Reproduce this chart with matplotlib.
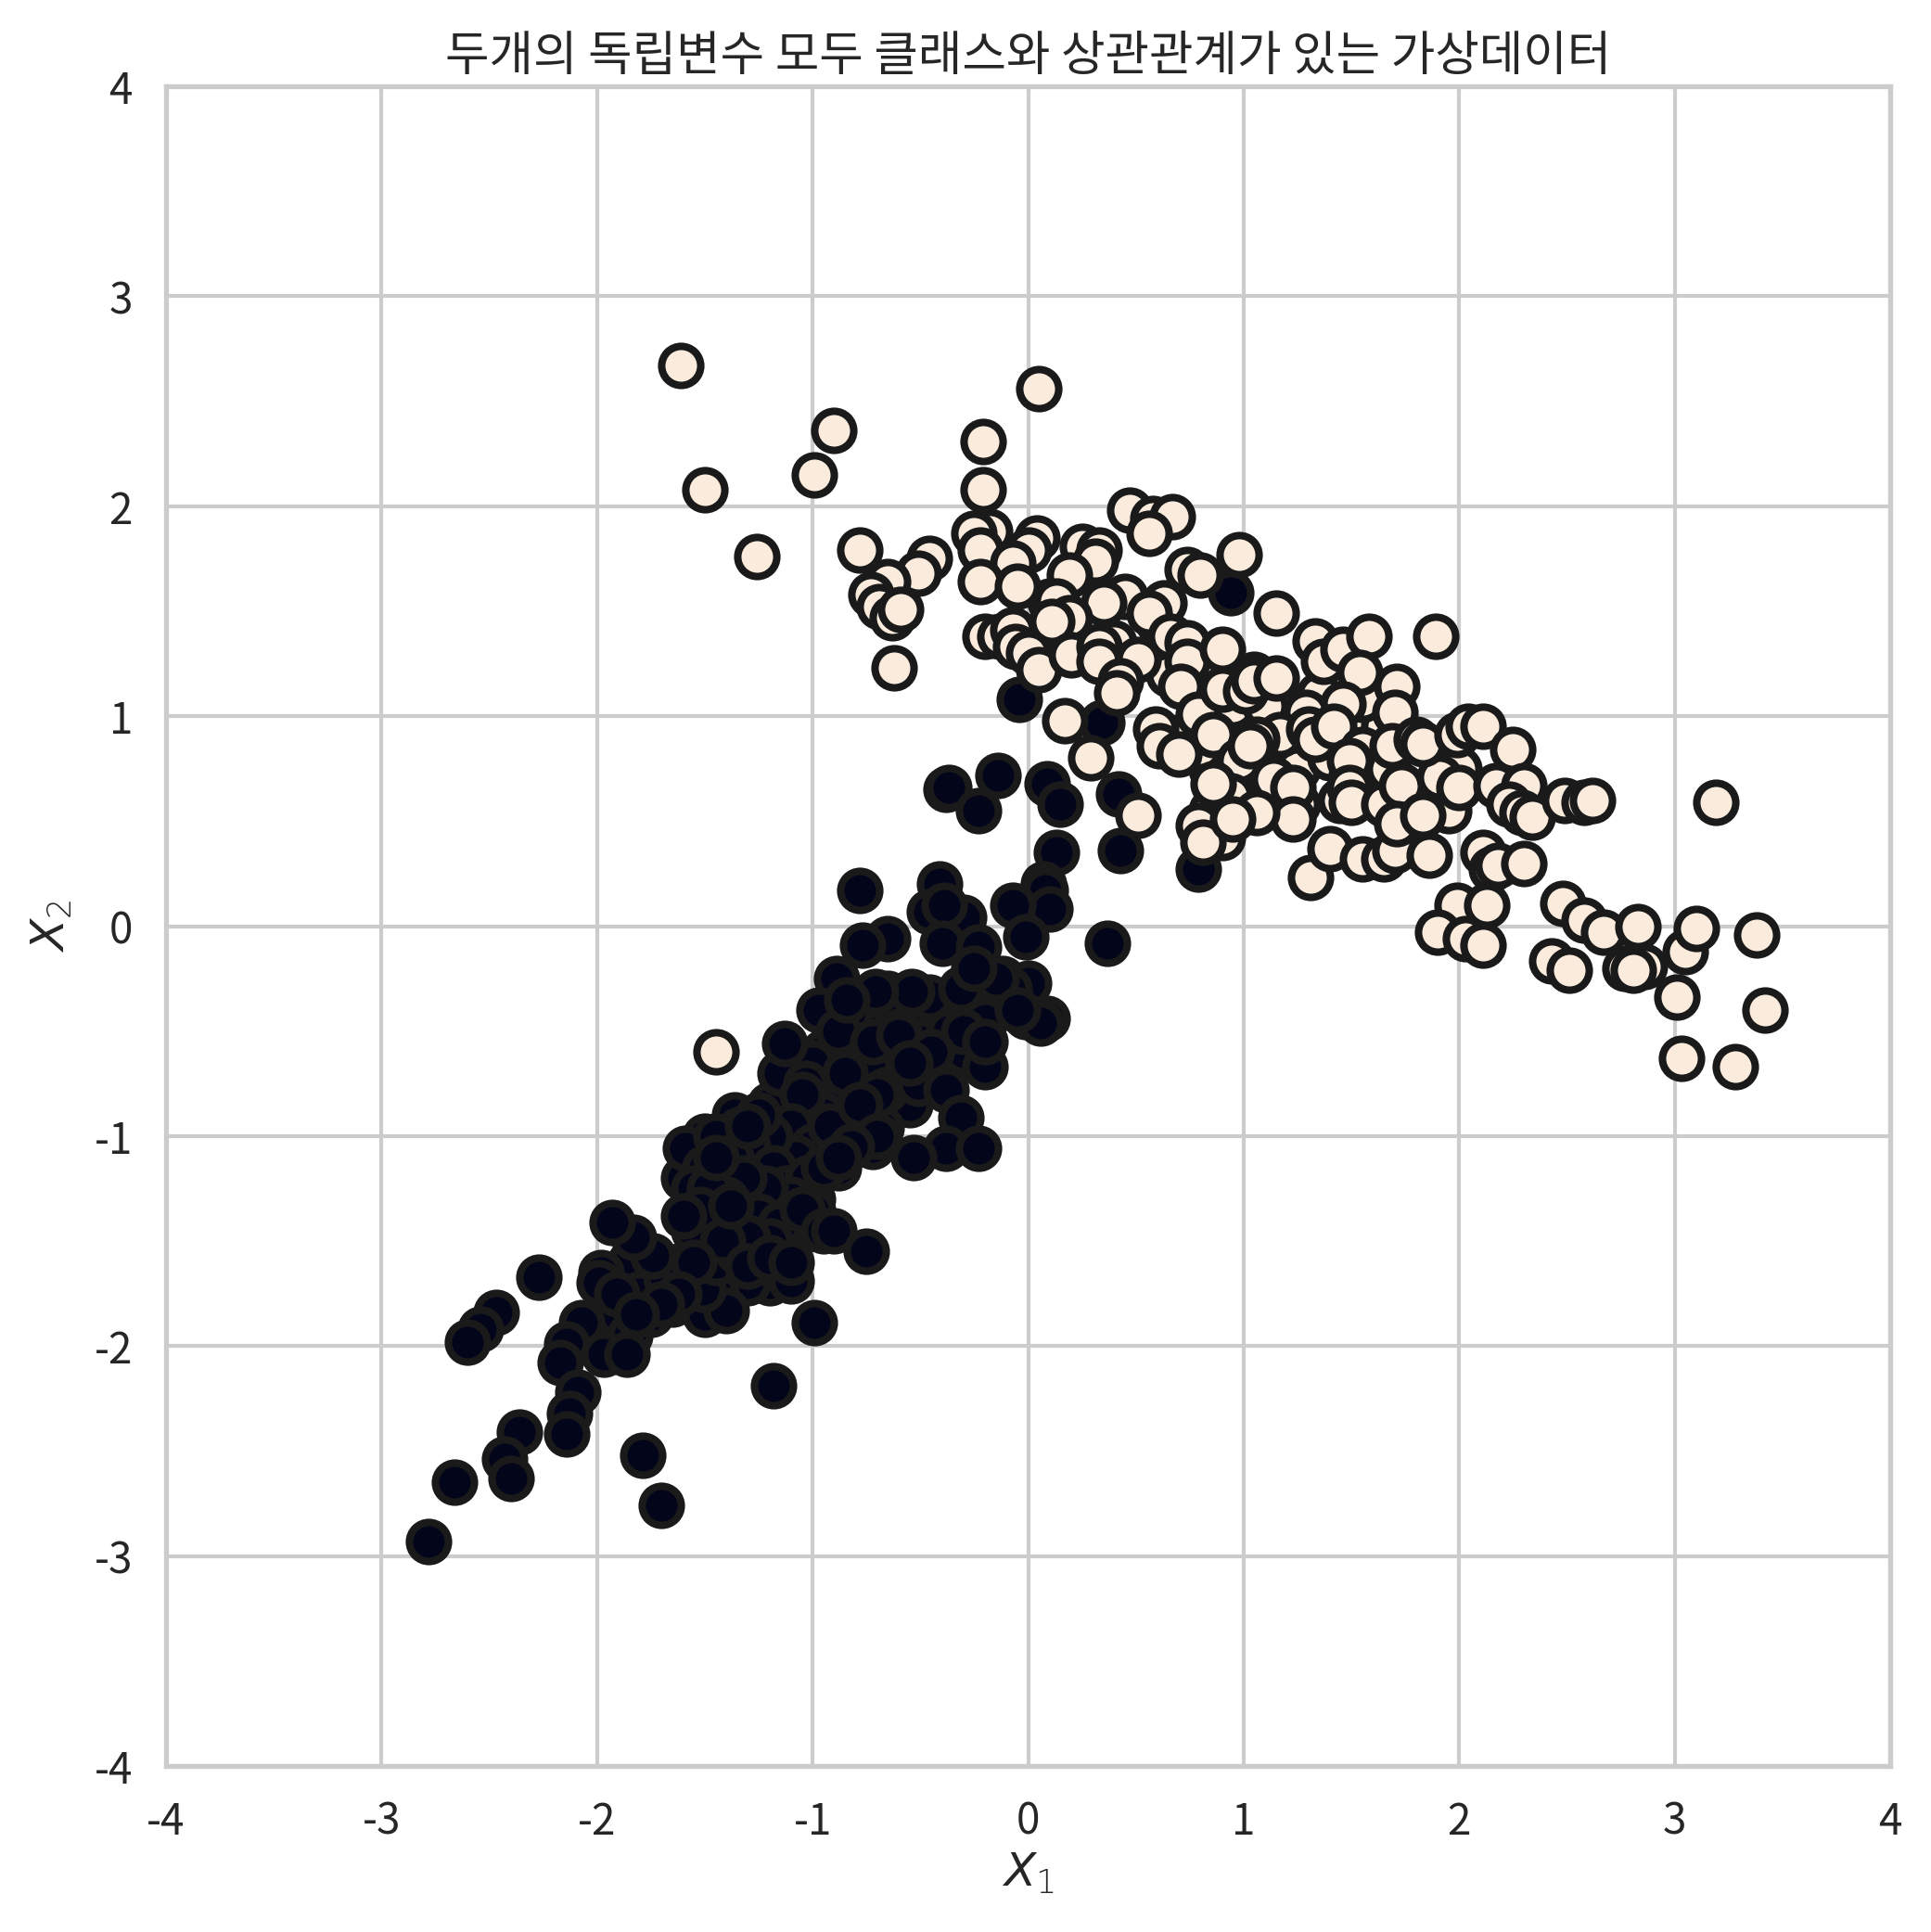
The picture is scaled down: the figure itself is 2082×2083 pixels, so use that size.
#!/usr/bin/python3

import matplotlib
matplotlib.use('Agg')
from matplotlib import pyplot as plt

# class 0 (dark)
x0 = [-0.75, -0.65, -0.55, -0.45, -0.35, -0.25, -0.15, -0.12, -0.20, -0.30, -0.45, -0.50, -0.65, -0.75,
      -0.85, -0.95, -0.65, -0.55, -0.75, -0.90, -0.80, -0.72, -1.00, -1.05, -1.10, -1.20, -1.30, -1.15,
      -1.00, -1.05, -1.15, -1.25, -1.35, -1.45, -1.55, -1.20, -1.30, -1.45, -1.55, -1.62, -1.85, -1.80,
      -1.90, -1.85, -1.65, -1.50, -1.35, -1.50, -1.40, -1.60, -1.55, -1.05, -1.00, -0.88,
      -0.38, -0.37, -0.14, -0.23, 0.09, 0.15, 0.42, 0.43, 0.13, 0.79, 0.34, -0.04, 0.94, 0.37,
      0.07, 0.08, 0.10, -0.07, -0.01, -0.78, -0.41, -0.46, -0.30, -0.39, -0.40, -0.65, -0.77,
      -0.23, -0.89, 0.0, -0.09, 0.09, -0.01, 0.06, -0.97, -0.83, -1.13, -0.60, -0.46, -0.54,
      -0.71, -0.31, -0.37, -0.30, -0.20, -0.74, -0.66, -0.51, -0.38, -0.31, -0.38, -0.23, -0.53,
      -0.68, -0.90, -1.03, -1.36, -1.59, -1.34, -0.88, -0.84, -0.72, -0.60, -0.20, -0.15, -0.05,
      -0.25, -0.45, -0.55, -0.70, -0.85, -0.95, -1.05, -1.10, -1.00, -0.92, -0.78, -0.70, -0.82,
      -1.08, -1.20, -1.25, -1.30, -1.45, -1.50, -1.55, -1.42, -1.38, -1.28, -1.18, -1.12, -1.02,
      -0.95, -0.88, -1.00, -1.10, -1.22, -1.32, -1.40, -1.48, -1.52, -1.35, -1.25, -1.15, -1.05,
      -0.95, -0.90, -0.75, -1.10, -0.99, -1.18, -1.60, -1.40, -1.51, -1.68, -1.74, -1.83, -1.93,
      -1.98, -1.99, -2.27, -2.47, -2.54, -2.60, -2.07, -2.14, -1.97, -1.86, -2.17, -1.75, -1.91,
      -2.09, -2.13, -2.14, -2.36, -2.43, -2.40, -2.66, -2.78, -1.79, -1.70, -1.45, -1.35, -1.25,
      -1.20, -1.30, -1.42, -1.55, -1.62, -1.70, -1.82, -1.30, -1.20, -1.10, -1.38, -1.45, -1.30]
y0 = [-0.35, -0.32, -0.42, -0.45, -0.35, -0.35, -0.35, -0.25, -0.45, -0.60, -0.60, -0.55, -0.45, -0.50,
      -0.55, -0.60, -0.65, -0.85, -0.80, -0.75, -0.95, -1.05, -0.65, -0.85, -1.05, -0.85, -0.95, -0.70,
      -1.30, -1.45, -1.50, -1.50, -1.60, -1.50, -1.45, -1.70, -1.70, -1.75, -1.70, -1.62, -1.60, -1.75,
      -1.85, -1.95, -1.80, -1.85, -1.20, -1.00, -1.05, -1.20, -1.35, -1.15, -1.00, -1.15,
      0.65, 0.66, 0.72, 0.55, 0.68, 0.58, 0.63, 0.36, 0.35, 0.27, 0.97, 1.08, 1.59, -0.08,
      0.20, 0.17, 0.08, 0.10, -0.05, 0.17, 0.20, 0.07, 0.04, 0.10, -0.08, -0.06, -0.09,
      -0.10, -0.25, -0.27, -0.30, -0.44, -0.43, -0.46, -0.40, -0.41, -0.56, -0.50, -0.34, -0.31,
      -0.31, -0.30, -0.50, -0.50, -0.67, -0.67, -0.78, -0.75, -0.78, -0.91, -1.06, -1.06, -1.10,
      -0.96, -0.87, -0.75, -0.90, -1.06, -0.97, -0.50, -0.35, -0.55, -0.52, -0.55, -0.25, -0.40,
      -0.20, -0.60, -0.65, -0.80, -0.70, -0.90, -0.80, -0.95, -1.05, -0.95, -0.85, -1.00, -1.05,
      -1.10, -1.00, -0.90, -1.05, -1.00, -1.15, -1.25, -1.20, -1.10, -1.20, -1.15, -1.25, -1.20,
      -1.15, -1.10, -1.35, -1.30, -1.25, -1.20, -1.30, -1.25, -1.35, -1.45, -1.38, -1.42, -1.35,
      -1.45, -1.45, -1.55, -1.69, -1.89, -2.19, -1.38, -1.83, -1.73, -1.67, -1.57, -1.48, -1.41,
      -1.65, -1.70, -1.67, -1.84, -1.92, -1.98, -1.89, -1.99, -2.04, -2.04, -2.08, -1.85, -1.75,
      -2.22, -2.32, -2.42, -2.41, -2.54, -2.63, -2.65, -2.93, -2.52, -2.76, -1.60, -1.55, -1.60,
      -1.50, -1.48, -1.50, -1.60, -1.75, -1.80, -1.85, -1.62, -1.58, -1.60, -1.33, -1.10, -0.95]

# class 1 (light)
x1 = [1.00, 0.95, 0.85, 0.90, 0.98, 1.10, 1.15, 1.25, 1.25, 1.40, 1.55, 1.60, 1.50, 1.35, 1.20, 1.65,
      1.75, 1.50, 1.60, 1.45, 1.10, 0.65, 0.85, 0.60, 0.40, 0.25, 0.10, 0.20, -0.15, 0.70, 0.80, 1.95,
      2.00, 0.85, 1.05,
      -1.61, 0.05, -0.90, -0.21, -0.99, -1.50, -0.21, -1.26, -0.78, 0.47, 0.58, 0.67, 0.56, -0.18,
      -0.25, -0.22, 0.04, 0.0, -0.46, -0.51, 0.98, 0.25, 0.33, 0.31, 0.19, 0.74, 0.80, -0.07,
      -0.22, -0.05, -0.65, -0.73, -0.69, -0.63, -0.59, -0.62, 0.13, 0.45, 0.35, 0.19, 0.11,
      0.63, 0.56, 1.15, 1.89, 0.66, -0.20, -0.13, -0.07, -0.06, 0.0, 0.05, 0.20, 0.33, 0.33,
      0.51, 0.74, 0.74, 0.90, 0.43, 0.41, 0.71, 0.17, 0.29, 0.51, 0.59, 0.61, 0.70, 0.79,
      0.86, 0.90, 1.01, 1.05, 1.15, 1.33, 1.37, 1.46, 1.58, 1.55, 1.54, 1.71, 1.70, 1.46,
      1.29, 1.17, 1.30, 1.33, 1.42, 1.55, 1.49, 1.06, 0.98, 1.03, 1.14, 1.23, 1.23, 0.94,
      0.90, 0.79, 0.81, 1.06, 0.95, 0.86, 1.31, 1.40, 1.55, 1.65, 1.70, 1.86, 1.49, 1.50,
      1.65, 1.67, 1.69, 1.73, 1.71, 1.83, 1.80, 1.91, 2.00, 1.83, 1.99, 2.04, 2.11, 2.25,
      2.17, 2.30, 2.23, 2.29, 2.34, 2.49, 2.58, 2.62, 3.19, 2.11, 2.15, 2.18, 2.30, 1.99,
      2.13, 1.90, 2.03, 2.11, 2.48, 2.58, 2.67, 2.83, 2.86, 2.77, 2.81, 2.43, 2.51, 3.05,
      3.10, 3.38, 3.01, 3.03, 3.28, 3.42, -1.45]
y1 = [0.95, 1.05, 0.75, 0.60, 0.62, 0.75, 0.85, 0.75, 0.58, 0.80, 0.90, 0.80, 1.00, 1.10, 1.05, 0.95,
      0.60, 0.72, 0.65, 0.60, 1.05, 1.20, 1.20, 1.45, 1.35, 1.40, 1.55, 1.60, 1.75, 0.90, 0.85, 0.55,
      0.75, 0.55, 1.20,
      2.67, 2.56, 2.36, 2.31, 2.15, 2.08, 2.08, 1.76, 1.79, 1.98, 1.94, 1.95, 1.87, 1.88,
      1.87, 1.79, 1.85, 1.79, 1.75, 1.68, 1.77, 1.81, 1.79, 1.74, 1.67, 1.70, 1.67, 1.73,
      1.64, 1.62, 1.64, 1.58, 1.52, 1.47, 1.51, 1.23, 1.55, 1.57, 1.54, 1.47, 1.45,
      1.54, 1.49, 1.49, 1.38, 1.38, 1.38, 1.38, 1.41, 1.33, 1.30, 1.22, 1.29, 1.33, 1.26,
      1.27, 1.35, 1.26, 1.32, 1.17, 1.11, 1.14, 0.98, 0.80, 0.53, 0.94, 0.86, 0.82, 1.01,
      0.91, 1.13, 1.12, 1.17, 1.18, 1.36, 1.26, 1.32, 1.38, 1.08, 1.21, 1.14, 1.02, 1.06,
      1.02, 0.91, 0.94, 0.89, 0.95, 0.84, 0.79, 0.89, 0.79, 0.86, 0.70, 0.66, 0.51, 0.62,
      0.42, 0.48, 0.40, 0.54, 0.51, 0.68, 0.23, 0.37, 0.32, 0.32, 0.36, 0.34, 0.66, 0.59,
      0.58, 0.75, 0.86, 0.67, 0.49, 0.53, 0.89, 0.71, 0.66, 0.87, 0.91, 0.95, 0.95, 0.84,
      0.67, 0.67, 0.58, 0.54, 0.52, 0.60, 0.59, 0.60, 0.59, 0.35, 0.27, 0.29, 0.30, 0.10,
      0.10, -0.03, -0.06, -0.09, 0.11, 0.03, -0.03, 0.0, -0.19, -0.20, -0.21, -0.165, -0.21, -0.12,
      -0.01, -0.04, -0.34, -0.63, -0.67, -0.40, -0.60]

ticks = [-4, -3, -2, -1, 0, 1, 2, 3, 4]
title = '두개의 독립변수 모두 클래스와 상관관계가 있는 가상데이터'

plt.rcParams['font.family'] = ['Noto Sans CJK KR', 'DejaVu Sans']
plt.rcParams['font.weight'] = 'light'
plt.rcParams['axes.unicode_minus'] = False
plt.rcParams['mathtext.fontset'] = 'dejavusans'

text_colour = '.15'
fig = plt.figure(figsize=(10.41, 10.415), dpi=200)
ax = fig.add_axes([179 / 2082, 1 - 1904 / 2083, 1859 / 2082, 1811 / 2083])

ax.scatter(x0, y0, s=230, c='#03051a', edgecolors='#1a1a1a', linewidths=2.9, zorder=3)
ax.scatter(x1, y1, s=230, c='#faebdd', edgecolors='#1a1a1a', linewidths=2.9, zorder=3)

ax.set_xlim(-4, 4)
ax.set_ylim(-4, 4)
ax.set_xticks(ticks)
ax.set_yticks(ticks)
ax.tick_params(axis='x', length=0, labelsize=16.5, labelcolor=text_colour, pad=13)
ax.tick_params(axis='y', length=0, labelsize=16.5, labelcolor=text_colour, pad=13)
ax.grid(True, color='#cccccc', linewidth=1.5)
ax.set_axisbelow(True)
for spine in ax.spines.values():
    spine.set_color('#cccccc')
    spine.set_linewidth(1.9)

ax.set_xlabel('$X_1$', fontsize=18, color=text_colour, labelpad=2)
ax.set_ylabel('$X_2$', fontsize=18, color=text_colour, labelpad=7)
ax.set_title(title, fontsize=18.6, color=text_colour, pad=6)

fig.savefig('out.png', dpi=200)
